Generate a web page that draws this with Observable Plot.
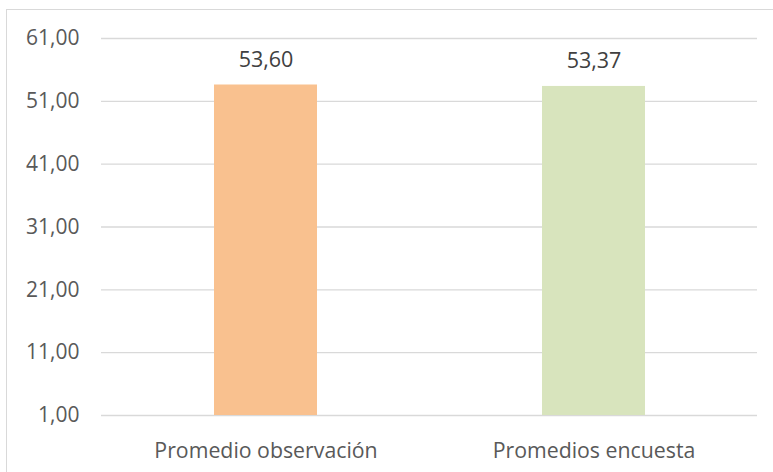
<!DOCTYPE html>
<html>
<head>
<meta charset="utf-8">
<script src="https://cdn.jsdelivr.net/npm/d3@7"></script>
<script src="https://cdn.jsdelivr.net/npm/@observablehq/plot@0.6"></script>
<style>
  html, body { margin: 0; padding: 0; background: #fff; }
  #wrap { position: relative; width: 773px; height: 472px; overflow: hidden; }
  #frame { position: absolute; left: 6px; top: 9px; width: 780px; height: 480px; border: 1px solid #d9d9d9; box-sizing: border-box; }
  #chart { position: absolute; left: 0; top: 0; }
</style>
</head>
<body>
<div id="wrap"><div id="frame"></div><div id="chart"></div></div>
<script>
const categories = ["Promedio observación", "Promedios encuesta"];
const values = [53.60, 53.37];
const colors = ["#F9C18F", "#D8E4BD"];
const yTicks = [1, 11, 21, 31, 41, 51, 61];

const data = categories.map((c, i) => ({cat: c, value: values[i], color: colors[i]}));
const fmt = d => d.toFixed(2).replace(".", ",");

const plot = Plot.plot({
  width: 773,
  height: 472,
  marginLeft: 101,
  marginRight: 16,
  marginTop: 38,
  marginBottom: 57,
  style: {fontFamily: "'Open Sans', sans-serif", fontSize: "21px", color: "#595959", background: "transparent"},
  x: {domain: categories, paddingInner: 0.686, paddingOuter: 0.343, label: null},
  y: {domain: [1, 61], label: null},
  marks: [
    Plot.ruleY(yTicks, {stroke: "#d9d9d9", strokeWidth: 1.3}),
    Plot.barY(data, {x: "cat", y1: 1, y2: "value", fill: "color"}),
    Plot.text(data, {x: "cat", y: "value", text: d => fmt(d.value), dy: -25, fill: "#404040", fontSize: 21.5}),
    Plot.axisY(yTicks, {tickSize: 0, tickPadding: 22, tickFormat: fmt, fill: "#595959", fontSize: 21}),
    Plot.axisX({tickSize: 0, tickPadding: 27, fill: "#595959", fontSize: 21.3})
  ]
});
document.getElementById("chart").appendChild(plot);
</script>
</body>
</html>
